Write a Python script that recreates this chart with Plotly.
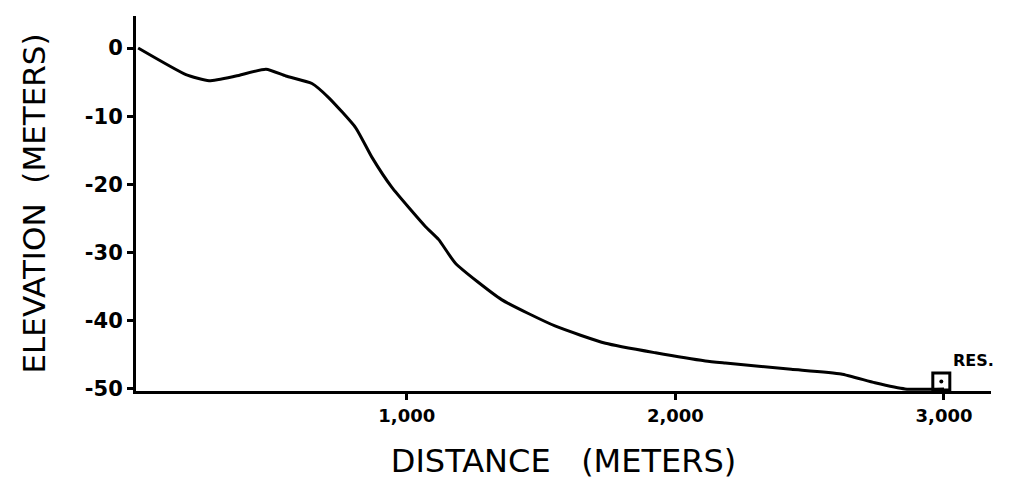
import plotly.graph_objects as go

distance = [0, 178, 264, 364, 476, 550, 647, 710, 810, 870, 944, 1070, 1119, 1182,
            1353, 1554, 1740, 1926, 2112, 2186, 2431, 2617, 2743, 2855, 3000]
elevation = [0, -3.9, -4.8, -4.1, -3.1, -4.1, -5.2, -7.3, -11.7, -16, -20.4, -26.2,
             -28.1, -31.6, -36.9, -40.8, -43.3, -44.7, -45.9, -46.2, -47.1, -47.8,
             -49.1, -50, -50]

y_ticks = [0, -10, -20, -30, -40, -50]
y_ticktext = ["0", "-10", "-20", "-30", "-40", "-50"]
x_ticks = [1000, 2000, 3000]
x_ticktext = ["1,000", "2,000", "3,000"]

res_x = [2990]
res_y = [-48.9]
res_label = "<b>RES.</b>"

FONT = "DejaVu Sans"

fig = go.Figure()
fig.add_trace(go.Scatter(
    x=distance, y=elevation, mode="lines",
    line=dict(color="black", width=3, shape="spline", smoothing=0.5),
    hoverinfo="skip", showlegend=False,
))
fig.add_trace(go.Scatter(
    x=res_x, y=res_y, mode="markers+text",
    marker=dict(symbol="square-open", size=17, color="black", line=dict(width=3)),
    text=[res_label], textposition="top right",
    textfont=dict(family=FONT, size=16, color="black"),
    cliponaxis=False, showlegend=False, hoverinfo="skip",
))
fig.add_trace(go.Scatter(
    x=res_x, y=res_y, mode="markers",
    marker=dict(symbol="circle", size=4, color="black"),
    cliponaxis=False, showlegend=False, hoverinfo="skip",
))

fig.update_layout(
    width=1012, height=481,
    margin=dict(l=128, r=29, t=8, b=98, autoexpand=False),
    paper_bgcolor="white", plot_bgcolor="white",
    font=dict(family=FONT, color="black"),
)
fig.update_xaxes(
    range=[-8, 3175], showgrid=False, zeroline=False, automargin=False,
    showline=True, linecolor="black", linewidth=3,
    tickvals=x_ticks, ticktext=["<b>%s</b>" % t for t in x_ticktext],
    ticks="outside", ticklen=6, tickwidth=3, tickcolor="black",
    tickfont=dict(family=FONT, size=18, color="black"),
    title=dict(text="DISTANCE   (METERS)", font=dict(family=FONT, size=32, color="black"),
               standoff=26),
)
fig.update_yaxes(
    range=[-50.3, 4.7], showgrid=False, zeroline=False, automargin=False,
    showline=True, linecolor="black", linewidth=3,
    tickvals=y_ticks, ticktext=["<b>%s</b>" % t for t in y_ticktext],
    ticks="outside", ticklen=6, tickwidth=3, tickcolor="black",
    tickfont=dict(family=FONT, size=21, color="black"),
    title=dict(text="ELEVATION  (METERS)", font=dict(family=FONT, size=31, color="black"),
               standoff=30),
)

fig.write_html("out.html")
